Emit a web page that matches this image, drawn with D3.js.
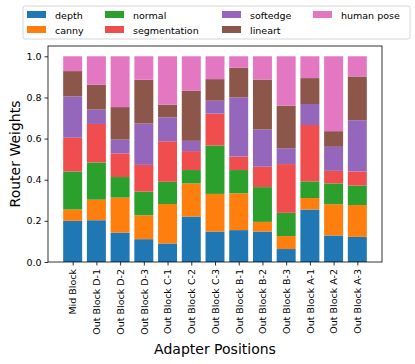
<!DOCTYPE html>
<html lang="en">
<head>
    <meta charset="utf-8">
    <title>Router Weights by Adapter Position</title>
    <script type="text/javascript" src="https://d3js.org/d3.v7.min.js"></script>
    <style>
        body { margin: 0; background: #fff; }
        text { font-family: "DejaVu Sans", sans-serif; fill: #000; }
    </style>
</head>
<body>
    <div id="chart"></div>

    <script type="text/javascript">

        // Adapter positions (x categories)
        var positions = ["Mid Block", "Out Block D-1", "Out Block D-2", "Out Block D-3",
            "Out Block C-1", "Out Block C-2", "Out Block C-3",
            "Out Block B-1", "Out Block B-2", "Out Block B-3",
            "Out Block A-1", "Out Block A-2", "Out Block A-3"];

        // Router weights per condition type
        var depth        = [0.200, 0.203, 0.143, 0.111, 0.090, 0.221, 0.148, 0.155, 0.148, 0.063, 0.255, 0.129, 0.122];
        var canny        = [0.055, 0.100, 0.170, 0.116, 0.192, 0.161, 0.183, 0.179, 0.047, 0.063, 0.056, 0.152, 0.155];
        var normal       = [0.185, 0.181, 0.100, 0.115, 0.108, 0.065, 0.235, 0.113, 0.169, 0.113, 0.081, 0.101, 0.094];
        var segmentation = [0.164, 0.187, 0.115, 0.130, 0.197, 0.092, 0.155, 0.066, 0.099, 0.237, 0.274, 0.061, 0.069];
        var softedge     = [0.201, 0.070, 0.067, 0.201, 0.116, 0.050, 0.063, 0.287, 0.181, 0.077, 0.102, 0.117, 0.249];
        var lineart      = [0.123, 0.121, 0.158, 0.213, 0.062, 0.244, 0.105, 0.144, 0.243, 0.207, 0.126, 0.076, 0.213];
        var humanPose    = [0.072, 0.138, 0.247, 0.114, 0.235, 0.167, 0.111, 0.056, 0.113, 0.240, 0.106, 0.364, 0.098];

        var seriesNames = ["depth", "canny", "normal", "segmentation", "softedge", "lineart", "human pose"];
        var seriesValues = [depth, canny, normal, segmentation, softedge, lineart, humanPose];
        var yTicks = [0, 0.2, 0.4, 0.6, 0.8, 1.0];

        var colors = ["#1f77b4", "#ff7f0e", "#2ca02c", "#f04e4e", "#9467bd", "#8c564b", "#e377c2"];

        var width = 415, height = 364;
        var margin = { left: 48, right: 33, top: 46, bottom: 102 };
        var plotW = width - margin.left - margin.right;
        var plotH = height - margin.top - margin.bottom;

        // Build rows for d3.stack
        var rows = positions.map(function(p, i) {
            var row = { position: p };
            seriesNames.forEach(function(s, j) { row[s] = seriesValues[j][i]; });
            return row;
        });
        var stacked = d3.stack().keys(seriesNames)(rows);

        var svg = d3.select("#chart").append("svg")
            .attr("width", width)
            .attr("height", height);

        var g = svg.append("g")
            .attr("transform", "translate(" + margin.left + "," + margin.top + ")");

        // matplotlib-like linear x with 0.8 bar width and 5% margins
        var n = positions.length;
        var pad = 0.05 * (n - 1 + 0.8);
        var x = d3.scaleLinear()
            .domain([-0.4 - pad, n - 1 + 0.4 + pad])
            .range([0, plotW]);
        var bw = x(0.8) - x(0);

        var y = d3.scaleLinear()
            .domain([0, 1.05])
            .range([plotH, 0]);

        // Bars
        g.selectAll("g.series")
            .data(stacked)
            .enter().append("g")
            .attr("class", "series")
            .attr("fill", function(d, i) { return colors[i]; })
            .selectAll("rect")
            .data(function(d) { return d; })
            .enter().append("rect")
            .attr("x", function(d, i) { return x(i - 0.4); })
            .attr("width", bw)
            .attr("y", function(d) { return y(d[1]); })
            .attr("height", function(d) { return y(d[0]) - y(d[1]); });

        // Axes
        var yAxis = d3.axisLeft(y).tickValues(yTicks).tickFormat(d3.format(".1f")).tickSize(3.5).tickPadding(3);
        var xAxis = d3.axisBottom(x).tickValues(d3.range(n)).tickFormat(function(i) { return positions[i]; }).tickSize(3.5);

        var ya = g.append("g").call(yAxis);
        ya.select(".domain").remove();
        ya.selectAll("text").style("font-size", "9.5px").attr("font-family", null);
        ya.selectAll("line").attr("stroke", "#000").attr("stroke-width", 0.8);

        var xa = g.append("g")
            .attr("transform", "translate(0," + plotH + ")")
            .call(xAxis);
        xa.select(".domain").remove();
        xa.selectAll("line").attr("stroke", "#000").attr("stroke-width", 0.8);
        xa.selectAll("text")
            .style("font-size", "9.5px")
            .attr("font-family", null)
            .attr("transform", "rotate(-90)")
            .attr("text-anchor", "end")
            .attr("dy", "0.35em")
            .attr("x", -7)
            .attr("y", 0);

        // Frame
        g.append("rect")
            .attr("width", plotW)
            .attr("height", plotH)
            .attr("fill", "none")
            .attr("stroke", "#000")
            .attr("stroke-width", 0.8);

        // Axis labels
        svg.append("text")
            .attr("transform", "translate(20," + (margin.top + plotH / 2) + ") rotate(-90)")
            .attr("text-anchor", "middle")
            .style("font-size", "14px")
            .text("Router Weights");

        svg.append("text")
            .attr("x", margin.left + plotW / 2)
            .attr("y", 354)
            .attr("text-anchor", "middle")
            .style("font-size", "14px")
            .text("Adapter Positions");

        // Legend
        var legend = svg.append("g");
        legend.append("rect")
            .attr("x", 23).attr("y", 6)
            .attr("width", 387).attr("height", 33)
            .attr("rx", 2)
            .attr("fill", "#fff")
            .attr("stroke", "#ccc")
            .attr("stroke-width", 0.8);

        var colX = [27, 105, 222, 313];
        var items = legend.selectAll("g.item")
            .data(seriesNames)
            .enter().append("g")
            .attr("class", "item")
            .attr("transform", function(d, i) {
                return "translate(" + colX[Math.floor(i / 2)] + "," + (i % 2 === 0 ? 11 : 26) + ")";
            });
        items.append("rect")
            .attr("width", 19).attr("height", 7)
            .attr("fill", function(d, i) { return colors[i]; });
        items.append("text")
            .attr("x", 28).attr("y", 7.5)
            .style("font-size", "9.5px")
            .text(function(d) { return d; });

    </script>
</body>
</html>
